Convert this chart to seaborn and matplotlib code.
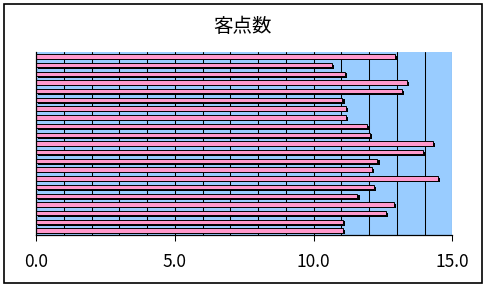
import matplotlib
matplotlib.use('Agg')
import matplotlib.pyplot as plt
import seaborn as sns
import pandas as pd
from matplotlib import patheffects as pe
from matplotlib.patches import Rectangle

# ---- data (top bar first) ----
categories = [str(i) for i in range(1, 22)]
values = [12.95, 10.66, 11.12, 13.38, 13.20, 11.04, 11.15,
          11.16, 11.92, 12.03, 14.29, 13.93, 12.30, 12.10,
          14.47, 12.19, 11.58, 12.89, 12.60, 11.06, 11.06]
title = "客点数"
xticks = [0, 5, 10, 15]
xticklabels = ["0.0", "5.0", "10.0", "15.0"]

df = pd.DataFrame({"cat": categories, "val": values})

sns.set_theme(style="white")
plt.rcParams['font.family'] = ['Noto Sans CJK JP', 'DejaVu Sans']

W, H = 488, 288
fig = plt.figure(figsize=(W / 100, H / 100), dpi=100)
fig.patch.set_facecolor('white')
ax = fig.add_axes([36.3 / W, (H - 235) / H, (452.3 - 36.3) / W, (235 - 52) / H])

sns.barplot(data=df, x="val", y="cat", orient="h", color="#FF99CC",
            saturation=1, width=0.5, edgecolor="black", linewidth=0.7, ax=ax)
for p in ax.patches:
    p.set_path_effects([pe.SimplePatchShadow(offset=(1.5, -1.2),
                                             shadow_rgbFace='black', alpha=1),
                        pe.Normal()])

ax.set_facecolor('#99CCFF')
ax.set_xlim(0, 15)
ax.set_axisbelow(True)
ax.set_xticks(xticks)
ax.set_xticklabels(xticklabels)
ax.set_xticks(range(0, 16), minor=True)
ax.xaxis.grid(True, which='both', color='black', linewidth=0.75)
ax.yaxis.grid(False)
ax.set_yticks([])
ax.set_xlabel("")
ax.set_ylabel("")
ax.tick_params(axis='x', which='major', direction='out', length=4.3, width=0.75,
               color='black', pad=8.5, labelsize=12.5, labelcolor='black', bottom=True)
ax.tick_params(axis='x', which='minor', length=0)
for s in ['top', 'right']:
    ax.spines[s].set_visible(False)
for s in ['left', 'bottom']:
    ax.spines[s].set_color('black')
    ax.spines[s].set_linewidth(0.9)

fig.text(243 / W, 1 - 26 / H, title, ha='center', va='center',
         fontsize=14, color='black')

fig.patches.append(Rectangle((4.3 / W, (H - 282.7) / H), 478 / W, 278.4 / H,
                             transform=fig.transFigure, fill=False,
                             edgecolor='black', linewidth=1.2))

fig.savefig('out.png', dpi=100)
